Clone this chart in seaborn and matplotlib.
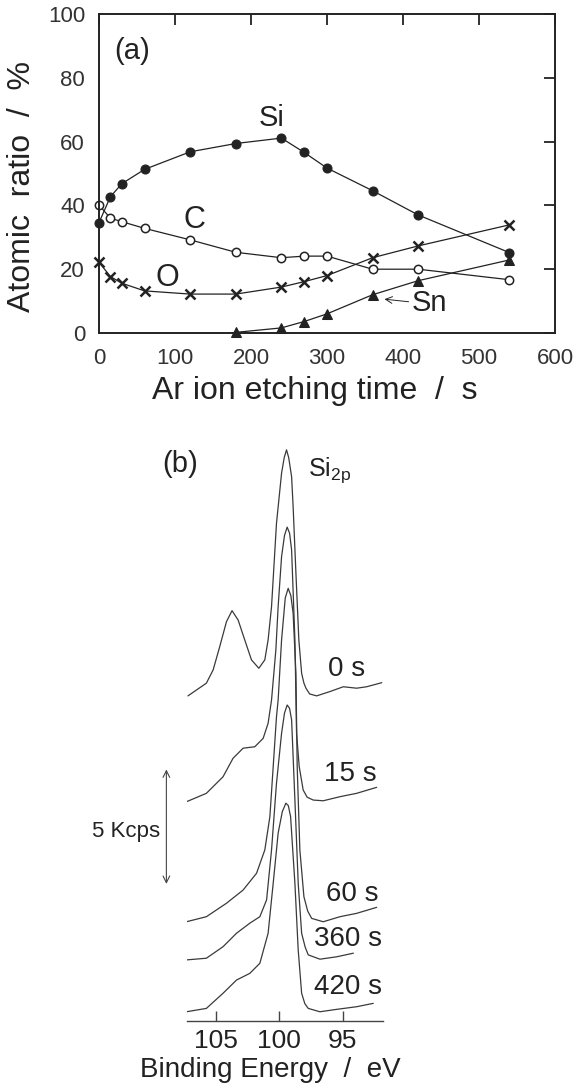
import matplotlib
matplotlib.use("Agg")
import matplotlib.pyplot as plt
import seaborn as sns
import pandas as pd

# ---- panel (a): depth profile ----
time_s = [0, 15, 30, 60, 120, 180, 240, 270, 300, 360, 420, 540]
si_pct = [34.6, 42.7, 46.8, 51.3, 56.8, 59.4, 61.1, 56.6, 51.7, 44.6, 37.0, 25.2]
c_pct = [40.1, 36.0, 34.9, 32.8, 29.2, 25.3, 23.6, 24.1, 24.1, 20.0, 20.0, 16.7]
o_pct = [22.2, 17.7, 15.6, 13.2, 12.2, 12.2, 14.4, 16.1, 18.0, 23.6, 27.3, 33.9]
sn_time_s = [180, 240, 270, 300, 360, 420, 540]
sn_pct = [0.2, 1.6, 3.6, 6.0, 12.0, 16.4, 22.9]

# ---- panel (b): Si2p spectra, stacked (Kcps) ----
be_0s = [107.18, 105.73, 105.20, 104.68, 104.15, 103.71, 103.23, 102.71, 102.18, 101.60,
         101.13, 100.87, 100.60, 100.21, 99.81, 99.60, 99.42, 99.25, 99.02, 98.90,
         98.68, 98.45, 98.23, 98.05, 97.89, 97.60, 97.05, 96.00, 94.95, 93.90,
         93.11, 91.92]
cps_0s = [13.42, 13.95, 14.50, 15.47, 16.51, 16.97, 16.58, 15.75, 14.92, 14.57,
          14.92, 15.75, 17.14, 20.61, 22.70, 23.35, 23.67, 23.35, 22.55, 21.30,
          18.53, 15.75, 14.36, 13.95, 13.74, 13.50, 13.42, 13.60, 13.80, 13.74,
          13.80, 13.97]

be_15s = [107.30, 105.73, 104.42, 103.63, 102.84, 101.92, 101.26, 100.87, 100.60, 100.26,
          100.08, 99.81, 99.58, 99.37, 99.18, 99.02, 98.76, 98.63, 98.42, 98.11,
          97.80, 97.32, 96.53, 95.21, 93.90, 92.32]
cps_15s = [9.01, 9.36, 10.05, 10.82, 11.24, 11.30, 11.65, 12.28, 13.25, 15.33,
           17.14, 19.22, 20.10, 20.45, 20.20, 19.50, 15.75, 11.86, 10.47, 9.50,
           9.20, 9.08, 9.05, 9.22, 9.36, 9.61]

be_60s = [107.30, 105.73, 104.15, 102.84, 101.78, 101.13, 100.73, 100.47, 100.21, 100.08,
          99.81, 99.52, 99.29, 99.08, 98.90, 98.68, 98.58, 98.37, 98.05, 97.75,
          97.44, 96.53, 95.21, 93.90, 92.32]
cps_60s = [4.01, 4.22, 4.78, 5.33, 6.03, 7.00, 8.39, 10.47, 12.55, 13.25,
           15.75, 17.50, 17.90, 17.60, 16.86, 14.36, 10.47, 7.00, 5.05, 4.45,
           4.15, 4.01, 4.22, 4.36, 4.61]

be_360s = [107.30, 105.73, 104.42, 103.36, 102.31, 101.52, 100.99, 100.60, 100.21, 99.81,
           99.58, 99.37, 99.18, 99.02, 98.76, 98.50, 98.23, 97.95, 97.71, 96.79,
           95.47, 94.16]
cps_360s = [2.42, 2.49, 2.97, 3.53, 3.95, 4.22, 4.92, 7.00, 9.78, 11.86,
            12.70, 13.04, 12.90, 12.42, 9.08, 5.61, 3.53, 2.95, 2.63, 2.45,
            2.55, 2.70]

be_420s = [107.30, 105.73, 104.42, 103.36, 102.31, 101.52, 100.87, 100.47, 100.08, 99.75,
           99.47, 99.28, 99.10, 98.76, 98.50, 98.23, 97.98, 97.71, 96.79, 95.47,
           93.90, 92.59]
cps_420s = [0.26, 0.40, 1.03, 1.58, 1.86, 2.28, 3.53, 5.61, 7.70, 8.60,
            8.95, 8.85, 8.39, 5.61, 2.83, 1.03, 0.60, 0.40, 0.26, 0.36,
            0.47, 0.61]

spectra_labels = ["0 s", "15 s", "60 s", "360 s", "420 s"]
be_ticks = [105, 100, 95]

sns.set_theme(style="white")
plt.rcParams["font.family"] = ["Liberation Sans", "DejaVu Sans"]
plt.rcParams["mathtext.default"] = "regular"

ink = "#222222"
fig = plt.figure(figsize=(5.79, 10.88), dpi=100)

# ---------------- panel (a) ----------------
ax1 = fig.add_axes([99 / 579, 1 - 333 / 1088, 456 / 579, 319 / 1088])
lw = 0.9
sns.lineplot(x=time_s, y=si_pct, ax=ax1, color=ink, lw=lw, marker="o", markersize=6.5,
             markerfacecolor=ink, markeredgecolor=ink, sort=False, estimator=None)
sns.lineplot(x=time_s, y=c_pct, ax=ax1, color=ink, lw=lw, marker="o", markersize=6,
             markerfacecolor="white", markeredgecolor=ink, markeredgewidth=1.1,
             sort=False, estimator=None)
sns.lineplot(x=time_s, y=o_pct, ax=ax1, color=ink, lw=lw, marker="x", markersize=6.5,
             markeredgecolor=ink, markeredgewidth=1.8, sort=False, estimator=None)
sns.lineplot(x=sn_time_s, y=sn_pct, ax=ax1, color=ink, lw=lw, marker="^", markersize=6.5,
             markerfacecolor=ink, markeredgecolor=ink, sort=False, estimator=None)
for ln in ax1.lines:
    ln.set_clip_on(False)

ax1.set_xlim(0, 600)
ax1.set_ylim(0, 100)
ax1.set_xticks(range(0, 601, 100))
ax1.set_yticks(range(0, 101, 20))
ax1.tick_params(direction="in", length=8, width=1.3, top=True, right=True,
                labelsize=16, labelcolor="#333333", color=ink)
ax1.tick_params(axis="x", pad=11)
ax1.tick_params(axis="y", pad=10)
for sp in ax1.spines.values():
    sp.set_visible(True)
    sp.set_color(ink)
    sp.set_linewidth(1.4)

ax1.set_xlabel("Ar ion etching time  /  s", fontsize=23, color=ink)
ax1.set_ylabel("Atomic  ratio  /  %", fontsize=23, color=ink)
ax1.xaxis.set_label_coords(0.474, -0.135)
ax1.yaxis.set_label_coords(-0.135, 0.46)

ax1.text(43, 88.5, "(a)", fontsize=21, ha="center", va="center", color=ink)
ax1.text(227, 67.5, "Si", fontsize=21, ha="center", va="center", color=ink)
ax1.text(126, 35.5, "C", fontsize=22, ha="center", va="center", color=ink)
ax1.text(90, 17.2, "O", fontsize=22, ha="center", va="center", color=ink)
ax1.text(412, 9.4, "Sn", fontsize=21, ha="left", va="center", color=ink)
ax1.annotate("", xy=(372, 10.7), xytext=(411, 9.7),
             arrowprops=dict(arrowstyle="->", lw=0.7, color=ink))

# ---------------- panel (b) ----------------
ax2 = fig.add_axes([186.7 / 579, 1 - 1021 / 1088, 196.6 / 579, 581 / 1088])
spectra = [(be_0s, cps_0s), (be_15s, cps_15s), (be_60s, cps_60s),
           (be_360s, cps_360s), (be_420s, cps_420s)]
frames = []
for lab, (be, cps) in zip(spectra_labels, spectra):
    frames.append(pd.DataFrame({"be": be, "cps": cps, "time": lab}))
df = pd.concat(frames, ignore_index=True)
sns.lineplot(data=df, x="be", y="cps", units="time", estimator=None, sort=False,
             color="#3a3a3a", lw=0.9, ax=ax2)
for ln in ax2.lines:
    ln.set_solid_joinstyle("round")
    ln.set_solid_capstyle("round")

ax2.set_xlim(107.28, 91.8)
ax2.set_ylim(-0.125, 24.08)
ax2.set_xticks(be_ticks)
ax2.set_yticks([])
for side in ["top", "right", "left"]:
    ax2.spines[side].set_visible(False)
ax2.spines["bottom"].set_color("#444444")
ax2.spines["bottom"].set_linewidth(1.0)
ax2.tick_params(axis="x", direction="in", length=7, width=1.0, color="#444444",
                labelsize=19, labelcolor=ink, pad=6, bottom=True)
ax2.set_xlabel("Binding Energy  /  eV", fontsize=20, color=ink)
ax2.xaxis.set_label_coords(0.424, -0.062)
ax2.set_ylabel("")

label_pos = [(96.14, 14.55), (96.47, 10.17), (96.31, 5.17), (97.24, 3.29), (97.24, 1.28)]
for lab, (bx, by) in zip(spectra_labels, label_pos):
    ax2.text(bx, by, lab, fontsize=20, ha="left", va="center", color=ink, clip_on=False)

ax2.text(107.83, 23.1, "(b)", fontsize=21, ha="center", va="center", color=ink, clip_on=False)
ax2.text(97.74, 22.6, r"$\mathregular{Si_{2p}}$", fontsize=18, ha="left", va="baseline",
         color=ink, clip_on=False)

ax2.annotate("", xy=(108.88, 10.47), xytext=(108.88, 5.47),
             arrowprops=dict(arrowstyle="<->", lw=0.8, color="#444444"),
             annotation_clip=False)
ax2.text(109.4, 7.76, "5 Kcps", fontsize=16, ha="right", va="center", color=ink,
         clip_on=False)

fig.savefig("out.png", dpi=100)
plt.close(fig)
